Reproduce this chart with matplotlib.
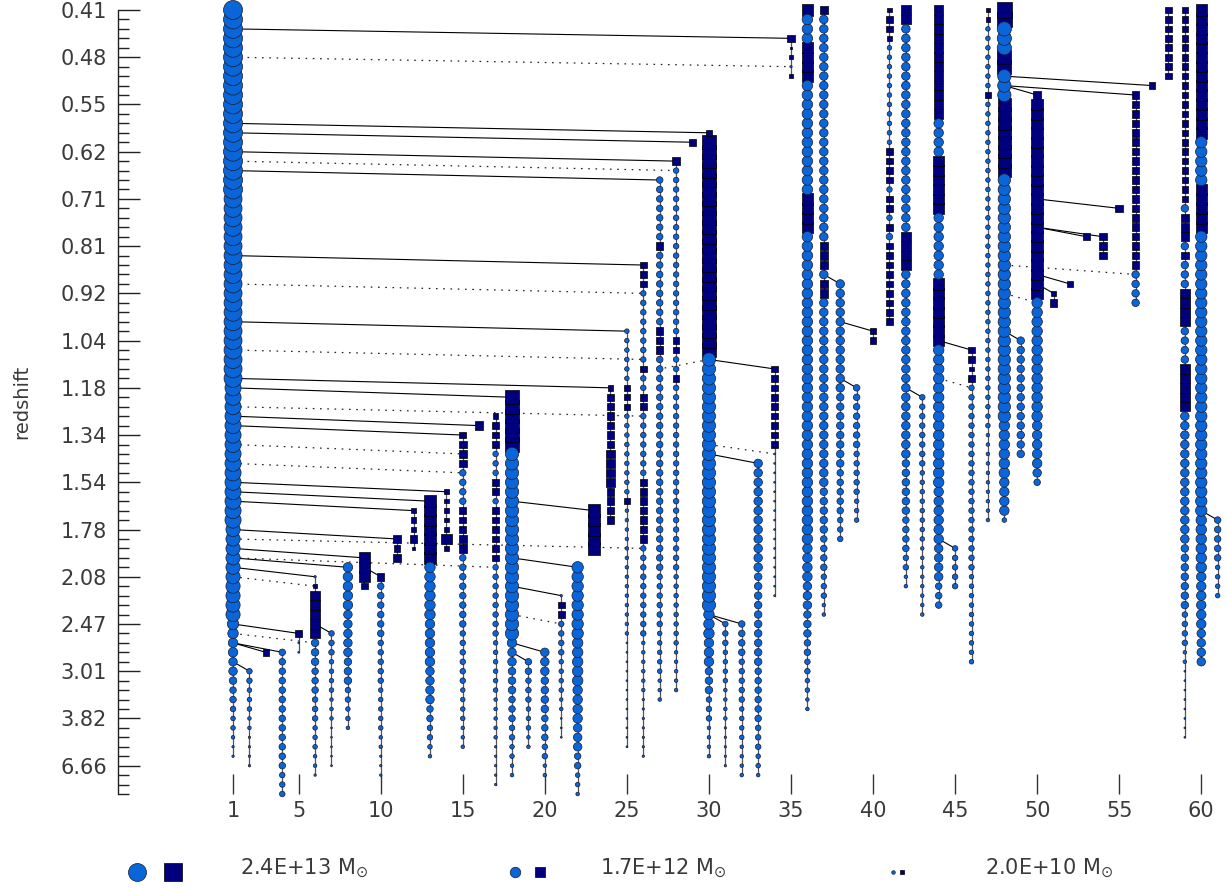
import numpy as np
import matplotlib.pyplot as plt
from matplotlib.lines import Line2D

# redshift of every fifth snapshot (snapshot 0 at the top)
REDSHIFT_LABELS = ['0.41', '0.48', '0.55', '0.62', '0.71', '0.81', '0.92', '1.04',
                   '1.18', '1.34', '1.54', '1.78', '2.08', '2.47', '3.01', '3.82', '6.66']
N_SNAPSHOTS = 84
COLUMN_TICKS = [1, 5, 10, 15, 20, 25, 30, 35, 40, 45, 50, 55, 60]

# branches: (column, first snapshot, [(n snapshots, kind, log10 mass)])
# kind 'c' = circle, 's' = square
BRANCHES = [
    (1, 0, [(20, 'c', 13.54), (20, 'c', 13.38), (15, 'c', 13.09), (10, 'c', 12.8), (1, 'c', 12.37),
            (1, 'c', 12.23), (2, 'c', 11.95), (2, 'c', 11.68), (1, 'c', 11.4), (2, 'c', 11.13),
            (1, 'c', 10.85), (2, 'c', 10.58), (1, 'c', 10.3), (2, 'c', 9.77)]),
    (2, 70, [(2, 'c', 10.85), (3, 'c', 10.58), (2, 'c', 10.3), (4, 'c', 9.77)]),
    (3, 68, [(1, 's', 11.13)]),
    (4, 68, [(13, 'c', 11.13), (3, 'c', 10.85)]),
    (5, 66, [(1, 's', 11.4), (2, 'c', 9.5)]),
    (6, 60, [(1, 'c', 9.77), (1, 's', 10.3), (5, 's', 11.95), (3, 'c', 11.4), (3, 'c', 11.13),
             (3, 'c', 10.85), (3, 'c', 10.58), (2, 'c', 10.3), (1, 'c', 9.77)]),
    (7, 66, [(3, 'c', 10.85), (4, 'c', 10.58), (3, 'c', 10.3), (5, 'c', 9.5)]),
    (8, 59, [(5, 'c', 11.95), (5, 'c', 11.68), (3, 'c', 11.4), (2, 'c', 10.85), (2, 'c', 10.58),
             (1, 'c', 10.3)]),
    (9, 58, [(3, 's', 12.3), (1, 's', 11.13)]),
    (10, 60, [(1, 's', 11.4), (6, 'c', 11.13), (5, 'c', 10.85), (5, 'c', 10.58), (2, 'c', 10.3),
              (3, 'c', 9.77)]),
    (11, 56, [(1, 's', 11.4), (1, 's', 11.13), (1, 's', 11.4)]),
    (12, 53, [(1, 's', 10.58), (2, 's', 10.85), (1, 's', 11.4), (1, 's', 10.3)]),
    (13, 52, [(7, 's', 12.37), (6, 'c', 12.23), (5, 'c', 11.95), (4, 'c', 11.68), (2, 'c', 11.13),
              (2, 'c', 10.85), (1, 'c', 10.58), (1, 'c', 10.3)]),
    (14, 51, [(5, 's', 10.58), (1, 's', 12.23), (1, 's', 10.85)]),
    (15, 45, [(1, 's', 11.13), (1, 's', 11.4), (1, 's', 11.68), (1, 's', 11.4), (4, 'c', 11.13),
              (3, 's', 11.13), (2, 's', 11.68), (8, 'c', 11.13), (6, 'c', 10.85), (4, 'c', 10.58),
              (3, 'c', 10.3)]),
    (16, 44, [(1, 's', 11.68)]),
    (17, 43, [(1, 's', 10.85), (3, 's', 11.13), (3, 'c', 10.85), (2, 's', 11.13), (1, 'c', 10.85),
              (6, 's', 11.13), (8, 'c', 10.85), (6, 'c', 10.58), (5, 'c', 10.3), (5, 'c', 9.77)]),
    (18, 41, [(6, 's', 12.8), (20, 'c', 12.66), (1, 'c', 11.95), (2, 'c', 11.68), (3, 'c', 11.4),
              (3, 'c', 11.13), (2, 'c', 10.85), (2, 'c', 10.58), (2, 'c', 10.3)]),
    (19, 69, [(2, 'c', 11.13), (3, 'c', 10.85), (3, 'c', 10.58), (2, 'c', 10.3)]),
    (20, 68, [(3, 'c', 11.68), (4, 'c', 11.4), (3, 'c', 11.13), (2, 'c', 10.85), (2, 'c', 10.3)]),
    (21, 62, [(1, 'c', 9.77), (2, 's', 11.13), (4, 'c', 10.85), (4, 'c', 10.58), (2, 'c', 10.3),
              (3, 'c', 9.5)]),
    (22, 59, [(8, 'c', 12.37), (5, 'c', 12.23), (4, 'c', 11.95), (3, 'c', 11.68), (2, 'c', 11.13),
              (2, 'c', 10.58), (1, 'c', 10.3)]),
    (23, 53, [(5, 's', 12.52)]),
    (24, 40, [(1, 's', 10.85), (6, 's', 11.4), (4, 's', 11.68), (4, 's', 11.4)]),
    (25, 34, [(6, 'c', 10.58), (3, 's', 10.85), (9, 'c', 10.58), (1, 's', 10.85), (14, 'c', 10.3),
              (12, 'c', 9.5)]),
    (26, 27, [(3, 's', 11.13), (8, 'c', 10.85), (1, 's', 11.13), (2, 'c', 10.85), (2, 's', 11.13),
              (7, 'c', 10.85), (7, 's', 11.4), (10, 'c', 10.85), (6, 'c', 10.3), (7, 'c', 9.77)]),
    (27, 18, [(7, 'c', 11.13), (1, 's', 11.4), (8, 'c', 11.13), (3, 's', 11.4), (23, 'c', 11.13),
              (6, 'c', 10.85), (5, 'c', 10.58), (3, 'c', 10.3)]),
    (28, 16, [(1, 's', 11.68), (18, 'c', 10.85), (2, 's', 11.13), (2, 'c', 10.85), (1, 's', 11.13),
              (20, 'c', 10.85), (8, 'c', 10.58), (5, 'c', 10.3)]),
    (29, 14, [(1, 's', 11.13)]),
    (30, 13, [(1, 's', 10.85), (23, 's', 12.8), (27, 'c', 12.66), (3, 'c', 12.23), (3, 'c', 11.95),
              (3, 'c', 11.4), (3, 'c', 10.85), (4, 'c', 10.3)]),
    (31, 65, [(3, 'c', 10.85), (4, 'c', 10.58), (4, 'c', 10.3), (5, 'c', 9.77)]),
    (32, 65, [(4, 'c', 11.13), (5, 'c', 10.85), (4, 'c', 10.58), (4, 'c', 10.3)]),
    (33, 48, [(12, 'c', 11.68), (10, 'c', 11.4), (6, 'c', 11.13), (3, 'c', 10.85), (2, 'c', 10.58),
              (1, 'c', 10.3)]),
    (34, 38, [(9, 's', 11.13), (16, 'c', 9.5)]),
    (35, 3, [(1, 's', 11.4), (1, 's', 9.77), (1, 's', 10.3), (1, 'c', 9.77), (1, 's', 10.3)]),
    (36, 0, [(1, 's', 12.37), (3, 'c', 12.23), (4, 's', 12.37), (12, 'c', 12.23), (4, 's', 12.37),
             (33, 'c', 12.23), (4, 'c', 11.95), (3, 'c', 11.68), (3, 'c', 11.4), (2, 'c', 11.13),
             (2, 'c', 10.85), (2, 'c', 10.58), (2, 'c', 10.3)]),
    (37, 0, [(1, 's', 11.68), (24, 'c', 11.68), (3, 's', 11.68), (1, 'c', 11.68), (2, 's', 11.68),
             (20, 'c', 11.68), (5, 'c', 11.4), (4, 'c', 11.13), (3, 'c', 10.85), (2, 'c', 10.3)]),
    (38, 29, [(12, 'c', 11.68), (8, 'c', 11.4), (5, 'c', 11.13), (3, 'c', 10.85)]),
    (39, 40, [(7, 'c', 11.13), (5, 'c', 10.85), (3, 'c', 10.58)]),
    (40, 34, [(2, 's', 11.13)]),
    (41, 0, [(1, 's', 10.58), (2, 's', 11.13), (1, 's', 10.58), (11, 'c', 10.58), (4, 's', 11.13),
             (1, 'c', 10.85), (2, 's', 11.13), (1, 'c', 10.85), (1, 's', 11.13), (1, 'c', 11.13),
             (9, 's', 11.13)]),
    (42, 0, [(2, 's', 11.95), (22, 'c', 11.68), (4, 's', 11.95), (20, 'c', 11.68), (6, 'c', 11.4),
             (4, 'c', 11.13), (2, 'c', 10.85), (2, 'c', 10.3)]),
    (43, 41, [(8, 'c', 10.85), (8, 'c', 10.58), (8, 'c', 10.3)]),
    (44, 0, [(12, 's', 11.95), (4, 'c', 11.95), (6, 's', 12.23), (7, 'c', 11.95), (7, 's', 12.37),
             (15, 'c', 12.23), (6, 'c', 11.95), (4, 'c', 11.68), (3, 'c', 11.13)]),
    (45, 57, [(5, 'c', 10.85)]),
    (46, 36, [(2, 's', 11.13), (1, 's', 10.58), (1, 's', 11.13), (20, 'c', 10.85), (10, 'c', 10.58)]),
    (47, 0, [(2, 's', 10.58), (7, 'c', 10.58), (1, 's', 10.85), (35, 'c', 10.58), (10, 'c', 10.3)]),
    (48, 0, [(2, 's', 12.95), (3, 'c', 12.8), (2, 's', 12.8), (3, 'c', 12.66), (8, 's', 12.66),
             (26, 'c', 12.52), (6, 'c', 12.23), (4, 'c', 11.95), (1, 'c', 10.58)]),
    (49, 35, [(13, 'c', 11.4)]),
    (50, 9, [(1, 's', 11.4), (21, 's', 12.37), (13, 'c', 12.23), (5, 'c', 11.95), (1, 'c', 11.68),
             (1, 'c', 11.13)]),
    (51, 30, [(1, 's', 10.85), (1, 's', 11.4)]),
    (52, 29, [(1, 's', 11.13)]),
    (53, 24, [(1, 's', 11.13)]),
    (54, 24, [(3, 's', 11.4)]),
    (55, 21, [(1, 's', 11.4)]),
    (56, 9, [(19, 's', 11.4), (4, 'c', 11.4)]),
    (57, 8, [(1, 's', 11.13)]),
    (58, 0, [(8, 's', 11.13)]),
    (59, 0, [(21, 's', 11.13), (1, 'c', 11.4), (1, 's', 11.4), (2, 's', 11.68), (1, 'c', 11.4),
             (1, 's', 11.4), (3, 'c', 11.4), (4, 's', 11.95), (4, 'c', 11.4), (5, 's', 11.95),
             (14, 'c', 11.68), (7, 'c', 11.4), (4, 'c', 10.85), (2, 'c', 10.3), (8, 'c', 9.5)]),
    (60, 0, [(14, 's', 12.37), (5, 'c', 12.37), (5, 's', 12.37), (30, 'c', 12.37), (6, 'c', 12.23),
             (6, 'c', 11.95), (4, 'c', 11.68)]),
    (61, 54, [(5, 'c', 11.13), (4, 'c', 10.58)]),
]

# links: (parent column, parent snapshot, child column, child snapshot)
SOLID_LINKS = [
    (1, 2, 35, 3), (1, 12, 30, 13), (1, 13, 29, 14), (1, 15, 28, 16), (1, 17, 27, 18),
    (1, 26, 26, 27), (1, 33, 25, 34), (1, 39, 24, 40), (1, 40, 18, 41), (1, 43, 16, 44),
    (1, 44, 15, 45), (1, 50, 14, 51), (1, 51, 13, 52), (1, 52, 12, 53), (1, 55, 11, 56),
    (1, 57, 9, 58), (1, 58, 8, 59), (1, 59, 6, 60), (1, 65, 5, 66), (1, 67, 3, 68),
    (1, 67, 4, 68), (1, 69, 2, 70), (6, 65, 7, 66), (9, 59, 10, 60), (18, 52, 23, 53),
    (18, 58, 22, 59), (18, 61, 21, 62), (18, 67, 20, 68), (18, 68, 19, 69), (30, 37, 34, 38),
    (30, 47, 33, 48), (30, 64, 31, 65), (30, 64, 32, 65), (37, 28, 38, 29), (38, 33, 40, 34),
    (38, 39, 39, 40), (42, 40, 43, 41), (44, 35, 46, 36), (44, 56, 45, 57), (48, 7, 57, 8),
    (48, 8, 56, 9), (48, 8, 50, 9), (48, 34, 49, 35), (50, 20, 55, 21), (50, 23, 53, 24),
    (50, 23, 54, 24), (50, 28, 52, 29), (50, 29, 51, 30), (60, 53, 61, 54),
]
DOTTED_LINKS = [
    (1, 5, 35, 6), (1, 16, 28, 17), (1, 29, 26, 30), (1, 36, 26, 37), (1, 42, 26, 43),
    (1, 46, 15, 47), (1, 48, 15, 49), (1, 56, 26, 57), (1, 58, 17, 59), (1, 60, 6, 61),
    (1, 66, 6, 67), (18, 64, 21, 65), (30, 46, 34, 47), (30, 37, 27, 38), (44, 39, 46, 40),
    (48, 27, 56, 28), (48, 30, 50, 31),
]

LEGEND_MASSES = [13.38, 12.23, 10.3]
LEGEND_LABELS = ['2.4E+13', '1.7E+12', '2.0E+10']

CIRCLE_COLOR = '#0a66d8'
SQUARE_COLOR = '#00007f'
TEXT_COLOR = '#3a3a3a'


def marker_px(logm):
    # diameter in pixels, anchored on the three legend masses
    return np.interp(logm, [9.5, 10.3, 12.23, 13.38, 13.7], [1.8, 3.6, 10.5, 18.0, 20.0])


def px_to_area(d):
    return (d * 0.72) ** 2


fig = plt.figure(figsize=(12.28, 8.88), dpi=100)
ax = fig.add_axes([118 / 1228, 94 / 888, 1110 / 1228, 784 / 888])
ax.set_xlim(-6.01, 61.63)
ax.set_ylim(N_SNAPSHOTS - 1, 0)

for pc, ps, cc, cs in SOLID_LINKS:
    ax.plot([pc, cc], [ps, cs], color='black', lw=0.8, zorder=1, clip_on=False)
for pc, ps, cc, cs in DOTTED_LINKS:
    ax.plot([pc, cc], [ps, cs], color='#222222', lw=0.9, ls=(0, (1.3, 4.5)), zorder=1,
            clip_on=False)

circles = []
squares = []
for col, top, segs in BRANCHES:
    snap = top
    for n, kind, m in segs:
        for k in range(n):
            (circles if kind == 'c' else squares).append((col, snap, m))
            snap += 1
    ax.plot([col, col], [top, snap - 1], color='#555555', lw=0.9, zorder=2, clip_on=False)

for pts, mk, fc, ec in [(squares, 's', SQUARE_COLOR, 'black'), (circles, 'o', CIRCLE_COLOR, '#1a1a2a')]:
    pts = sorted(pts, key=lambda p: -p[1])
    xs = [p[0] for p in pts]
    ys = [p[1] for p in pts]
    ss = [px_to_area(marker_px(p[2])) for p in pts]
    ax.scatter(xs, ys, s=ss, marker=mk, facecolor=fc, edgecolor=ec, linewidths=0.5,
               zorder=3, clip_on=False)

for side in ['top', 'right', 'bottom']:
    ax.spines[side].set_visible(False)
ax.spines['left'].set_linewidth(1.0)
ax.spines['left'].set_color('#222222')

ax.set_yticks(range(0, 5 * len(REDSHIFT_LABELS), 5))
ax.set_yticklabels(REDSHIFT_LABELS)
ax.set_yticks(range(N_SNAPSHOTS), minor=True)
ax.tick_params(axis='y', which='major', direction='in', length=16, width=1, pad=8,
               labelsize=15, labelcolor=TEXT_COLOR, color='#222222')
ax.tick_params(axis='y', which='minor', direction='in', length=8, width=1, color='#222222')

ax.set_xticks(COLUMN_TICKS)
ax.set_xticklabels([str(c) for c in COLUMN_TICKS], family=['Liberation Sans Narrow', 'DejaVu Sans'])
ax.tick_params(axis='x', direction='in', length=14.5, width=1, pad=5, labelsize=15,
               labelcolor=TEXT_COLOR, color='#333333')

ax.text(-0.0865, 0.5, 'redshift', transform=ax.transAxes, rotation=90, ha='center',
        va='center', fontsize=14, color=TEXT_COLOR)

# legend row at the bottom
leg_marker_x = [(137, 173), (515, 540), (893, 902)]
leg_text_x = [240, 600, 985]
for (xc, xs_), tx, m, lab in zip(leg_marker_x, leg_text_x, LEGEND_MASSES, LEGEND_LABELS):
    d = marker_px(m) * 0.72
    fig.add_artist(Line2D([xc / 1228], [16 / 888], marker='o', ms=d, mfc=CIRCLE_COLOR,
                          mec='#1a1a2a', mew=0.5, ls='none', transform=fig.transFigure))
    fig.add_artist(Line2D([xs_ / 1228], [16 / 888], marker='s', ms=d, mfc=SQUARE_COLOR,
                          mec='black', mew=0.5, ls='none', transform=fig.transFigure))
    fig.text(tx / 1228, 14 / 888, lab + r' M$_{\odot}$', fontsize=15, color=TEXT_COLOR,
             ha='left', va='baseline')

fig.savefig('out.png', dpi=100)
